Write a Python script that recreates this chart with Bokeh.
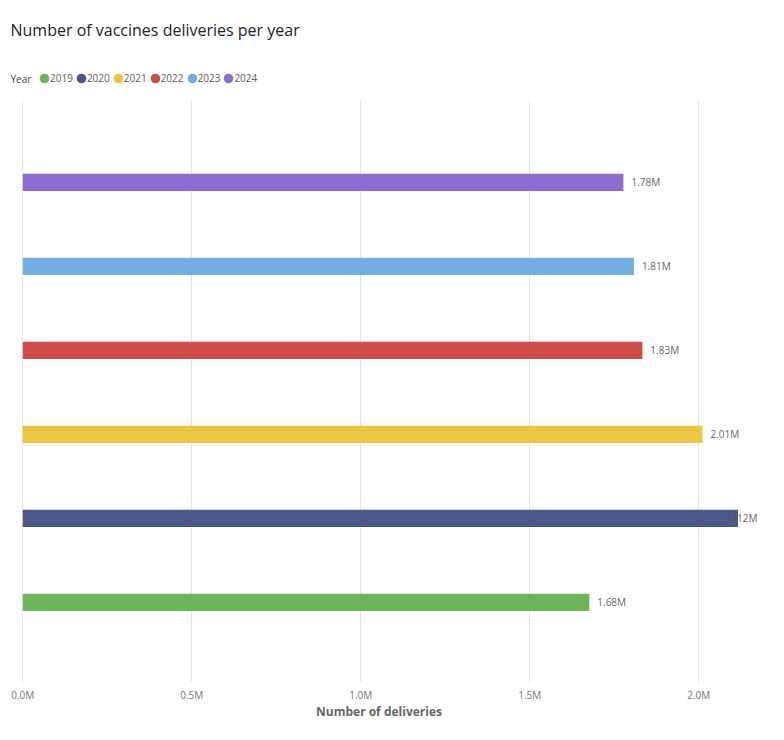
from bokeh.plotting import figure
from bokeh.models import (ColumnDataSource, Label, Legend, LegendItem, Range1d,
                          SingleIntervalTicker, PrintfTickFormatter)
from bokeh.core.properties import value
from bokeh.embed import file_html
from bokeh.resources import INLINE

# ---- data ----
years = ["2019", "2020", "2021", "2022", "2023", "2024"]
deliveries_m = [1.676, 2.116, 2.011, 1.833, 1.808, 1.777]   # millions
colors = ["#6CB55B", "#4A5788", "#EBC641", "#CD4B46", "#72AEE3", "#8C6DD0"]
title_text = "Number of vaccines deliveries per year"
x_title = "Number of deliveries"
legend_title = "Year"

FONT = "Open Sans"

# ---- layout constants (pixels) ----
PX_PER_M = 338.0       # x scale
ZERO_X = 22.3          # where 0 sits inside frame
PX_PER_CAT = 84.0      # y scale
FRAME_W, FRAME_H = 757, 682
GRID_TOP_PAD = 100     # gridlines start this far below the frame top

x_start = -ZERO_X / PX_PER_M
x_end = x_start + FRAME_W / PX_PER_M
y_start = -0.955
y_end = y_start + FRAME_H / PX_PER_CAT
grid_top = y_end - GRID_TOP_PAD / PX_PER_CAT

ypos = list(range(len(years)))
labels = [f"{v:.2f}M" for v in deliveries_m]
lab_x, lab_align, lab_off = [], [], []
for v in deliveries_m:
    if v + 0.085 > x_end:
        lab_x.append(x_end); lab_align.append("right"); lab_off.append(0)
    else:
        lab_x.append(v); lab_align.append("left"); lab_off.append(8)

src = ColumnDataSource(dict(y=ypos, v=deliveries_m, c=colors, lab=labels,
                            lx=lab_x, la=lab_align, lo=lab_off))

p = figure(width=FRAME_W + 19, height=FRAME_H + 48, output_backend="svg",
           toolbar_location=None,
           x_range=Range1d(x_start, x_end), y_range=Range1d(y_start, y_end),
           min_border_left=0, min_border_right=19, min_border_top=0,
           min_border_bottom=48)
p.outline_line_color = None

p.hbar(y="y", right="v", left=0, height=0.205, fill_color="c", line_color=None, source=src)
p.text(x="lx", y="y", text="lab", text_align="la", x_offset="lo", text_baseline="middle",
       text_font=value(FONT), text_font_size="10px", text_color="#666666", source=src)

p.yaxis.visible = False
p.ygrid.grid_line_color = None
p.xgrid.grid_line_color = "#E6E6E6"
p.xgrid.cross_bounds = (y_start, grid_top)

xa = p.xaxis[0]
xa.ticker = SingleIntervalTicker(interval=0.5)
xa.formatter = PrintfTickFormatter(format="%.1fM")
xa.axis_line_color = None
xa.major_tick_line_color = None
xa.minor_tick_line_color = None
xa.major_tick_out = 0
xa.major_tick_in = 0
xa.major_label_standoff = 1
xa.major_label_text_font = FONT
xa.major_label_text_font_size = "10px"
xa.major_label_text_color = "#777777"
xa.axis_label = x_title
xa.axis_label_text_font = FONT
xa.axis_label_text_font_size = "12px"
xa.axis_label_text_font_style = "bold"
xa.axis_label_text_color = "#666666"
xa.axis_label_standoff = -2

# title and legend heading (screen units, inside the frame)
p.add_layout(Label(x=10, y=FRAME_H - 29, x_units="screen", y_units="screen",
                   text=title_text, text_font=FONT, text_font_size="16px",
                   text_color="#252423", text_baseline="middle"))
p.add_layout(Label(x=10, y=FRAME_H - 78, x_units="screen", y_units="screen",
                   text=legend_title, text_font=FONT, text_font_size="10px",
                   text_color="#444444", text_baseline="middle"))

# legend swatches: screen-sized circles (ellipses) drawn off-view
items = []
for yr, col in zip(years, colors):
    r = p.ellipse(x=[x_start - 1], y=[y_start - 1], width=9, height=9,
                  width_units="screen", height_units="screen",
                  fill_color=col, line_color=None)
    items.append(LegendItem(label=yr, renderers=[r]))
leg = Legend(items=items, orientation="horizontal", location=(38, FRAME_H - 85),
             glyph_width=12, glyph_height=12, label_standoff=0, spacing=2,
             padding=0, margin=0, border_line_color=None, background_fill_alpha=0,
             label_text_font=FONT, label_text_font_size="10px",
             label_text_color="#605E5C", label_height=12)
p.add_layout(leg, "center")

open("out.html", "w").write(file_html(p, INLINE))
